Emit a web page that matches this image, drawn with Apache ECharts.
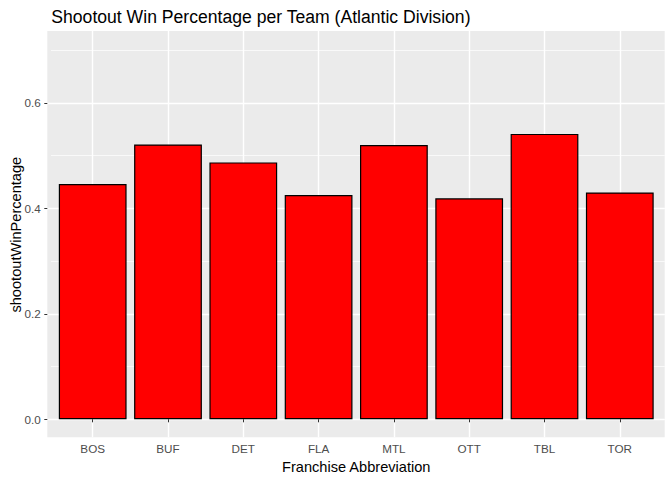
<!DOCTYPE html>
<html>
<head>
<meta charset="utf-8">
<script src="https://cdn.jsdelivr.net/npm/echarts@6/dist/echarts.min.js"></script>
<style>
html,body{margin:0;padding:0;background:#fff;}
#chart{width:672px;height:480px;}
</style>
</head>
<body>
<div id="chart"></div>
<script>
// ---- data ----
const teams = ['BOS', 'BUF', 'DET', 'FLA', 'MTL', 'OTT', 'TBL', 'TOR'];
const shootoutWinPercentage = [0.446, 0.521, 0.487, 0.425, 0.520, 0.419, 0.541, 0.430];
const yMajorTicks = [0.0, 0.2, 0.4, 0.6];
const titleText = 'Shootout Win Percentage per Team (Atlantic Division)';
const xTitle = 'Franchise Abbreviation';
const yTitle = 'shootoutWinPercentage';

// ---- layout (pixels) ----
const W = 672, H = 480;
const PL = 47.3, PR = 664.7, PT = 31, PB = 437.3; // panel
const Y0 = 419.3, PX = 527.5;                      // y of value 0, px per unit
const C0 = 92.7, STEP = 75.3;                      // first category centre, step
const FONT = '"Liberation Sans", Arial, Helvetica, sans-serif';
const majorMax = yMajorTicks[yMajorTicks.length - 1];

const chart = echarts.init(document.getElementById('chart'), null, {renderer: 'svg'});
chart.setOption({
  animation: false,
  backgroundColor: '#ffffff',
  textStyle: {fontFamily: FONT},
  title: {
    text: titleText,
    left: PL - 1, top: 3,
    textStyle: {fontFamily: FONT, fontSize: 17.6, fontWeight: 'normal', color: '#000'}
  },
  graphic: [{
    type: 'rect', z: -10, silent: true,
    shape: {x: PL, y: PT, width: PR - PL, height: PB - PT},
    style: {fill: '#EBEBEB'}
  }],
  grid: [
    // minor horizontal grid lines (0.1 steps) spanning whole panel width
    {left: PL, right: W - PR, top: Y0 - 0.7 * PX, height: 0.7 * PX, containLabel: false},
    // bars + vertical grid lines
    {left: C0, width: 7 * STEP, top: PT, height: PB - PT, containLabel: false},
    // major horizontal grid lines + labels
    {left: PL, right: W - PR, top: Y0 - majorMax * PX, height: majorMax * PX, containLabel: false}
  ],
  xAxis: [
    {gridIndex: 0, type: 'value', show: false, min: 0, max: 1},
    {
      gridIndex: 1, type: 'category', data: teams, boundaryGap: false,
      axisLine: {show: false},
      axisTick: {show: true, length: 3, lineStyle: {color: '#333333', width: 1}},
      axisLabel: {color: '#4D4D4D', fontSize: 11.7, fontFamily: FONT, margin: 5},
      splitLine: {show: true, lineStyle: {color: '#ffffff', width: 1.4}},
      name: xTitle, nameLocation: 'middle', nameGap: 20,
      nameTextStyle: {color: '#000', fontSize: 14.6, fontFamily: FONT}
    },
    {gridIndex: 2, type: 'value', show: false, min: 0, max: 1}
  ],
  yAxis: [
    {
      gridIndex: 0, type: 'value', min: 0, max: 0.7, interval: 0.1,
      axisLine: {show: false}, axisTick: {show: false}, axisLabel: {show: false},
      splitLine: {show: true, lineStyle: {color: '#ffffff', width: 0.7}},
      name: yTitle, nameLocation: 'middle', nameGap: 28, nameRotate: 90,
      nameTextStyle: {color: '#000', fontSize: 14.6, fontFamily: FONT}
    },
    {gridIndex: 1, type: 'value', show: false, min: (Y0 - PB) / PX, max: (Y0 - PT) / PX},
    {
      gridIndex: 2, type: 'value', min: yMajorTicks[0], max: majorMax, interval: 0.2,
      axisLine: {show: false},
      axisTick: {show: true, length: 3, lineStyle: {color: '#333333', width: 1}},
      axisLabel: {color: '#4D4D4D', fontSize: 11.7, fontFamily: FONT, margin: 6.5,
                  formatter: v => v.toFixed(1)},
      splitLine: {show: true, lineStyle: {color: '#ffffff', width: 1.4}}
    }
  ],
  series: [{
    type: 'bar', xAxisIndex: 1, yAxisIndex: 1,
    data: shootoutWinPercentage,
    barWidth: '90%',
    itemStyle: {color: '#FF0000', borderColor: '#000000', borderWidth: 1.2},
    z: 5
  }]
});
</script>
</body>
</html>
